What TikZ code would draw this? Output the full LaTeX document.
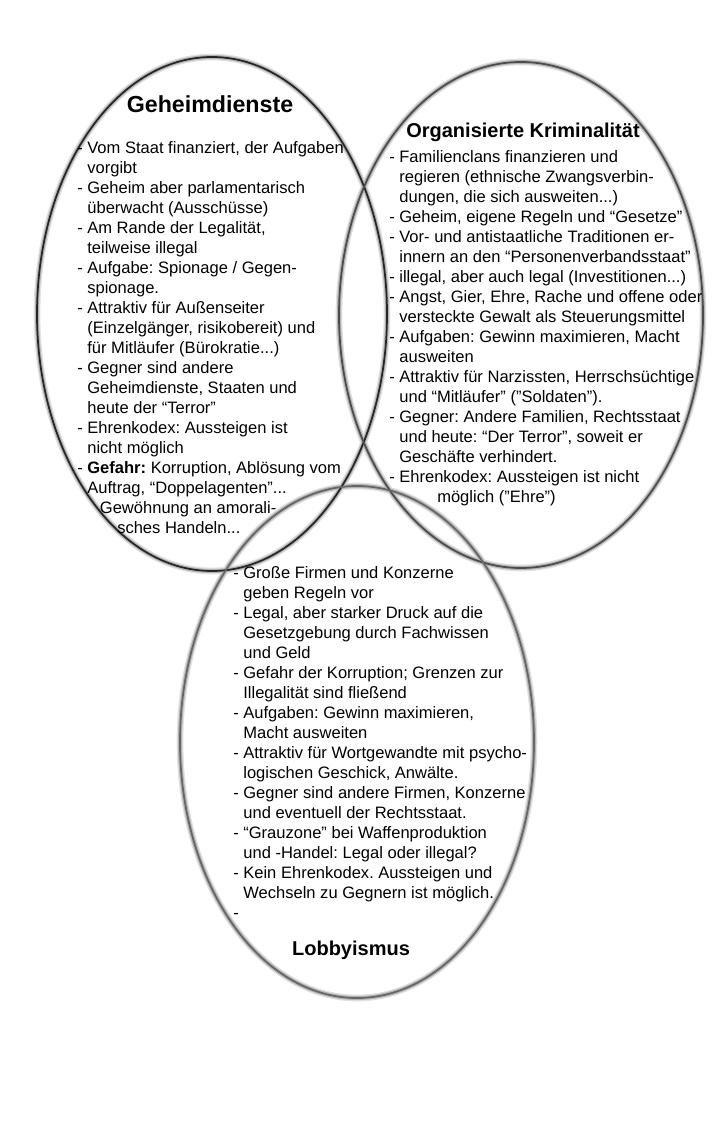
\documentclass[tikz,border=0pt]{standalone}
\usepackage{fontspec}
\setmainfont{Liberation Sans}
\usepackage{tikz}
\tikzset{x=.75pt,y=-.75pt}
\newcommand{\ind}{\hphantom{- }}
\frenchspacing

\begin{document}
\begin{tikzpicture}[
    schatten/.style={draw=black!12, line width=5pt},
    schatten2/.style={draw=black!30, line width=3pt},
    punkte/.style={align=left, anchor=north west, inner sep=0pt,
      font=\fontsize{12.4}{15}\selectfont},
    kopf/.style={anchor=base, inner sep=0pt,
      font=\bfseries\fontsize{15}{18}\selectfont}]
    \useasboundingbox (0,0) rectangle (720,1134);
    \fill[white] (0,0) rectangle (720,1134);
    % blurred rims first
    \foreach \x/\y/\a/\b in {212/314/175/257, 521/315/182/253, 357/742/177/256}
      \draw[schatten] (\x,\y) ellipse [x radius=\a, y radius=\b];
    \foreach \x/\y/\a/\b in {212/314/175/257, 521/315/182/253, 357/742/177/256}
      \draw[schatten2] (\x,\y) ellipse [x radius=\a, y radius=\b];
    % the three rings
    \foreach \x/\y/\a/\b/\c in {212/314/175/257/black!85, 521/315/182/253/black!70,
        357/742/177/256/black!60}
      \draw[\c, line width=1.3pt] (\x,\y) ellipse [x radius=\a, y radius=\b];

    % Geheimdienste
    \node[kopf, font=\bfseries\fontsize{17.4}{20}\selectfont] (gdkopf) at (210,113) {Geheimdienste};
    \node[punkte] (gdtext) at (77,141) {- Vom Staat finanziert, der Aufgaben\\
      \ind vorgibt\\
      - Geheim aber parlamentarisch\\
      \ind überwacht (Ausschüsse)\\
      - Am Rande der Legalität,\\
      \ind teilweise illegal\\
      - Aufgabe: Spionage / Gegen-\\
      \ind spionage.\\
      - Attraktiv für Außenseiter\\
      \ind (Einzelgänger, risikobereit) und\\
      \ind für Mitläufer (Bürokratie...)\\
      - Gegner sind andere\\
      \ind Geheimdienste, Staaten und\\
      \ind heute der “Terror”\\
      - Ehrenkodex: Aussteigen ist\\
      \ind nicht möglich\\
      - \textbf{Gefahr:} Korruption, Ablösung vom\\
      \ind Auftrag, “Doppelagenten”...\\
      \hspace*{17pt}Gewöhnung an amorali-\\
      \hspace*{30pt}sches Handeln...};

    % Organisierte Kriminalitaet
    \node[kopf] (okkopf) at (523,138) {Organisierte Kriminalität};
    \node[punkte] (oktext) at (389,150) {- Familienclans finanzieren und\\
      \ind regieren (ethnische Zwangsverbin-\\
      \ind dungen, die sich ausweiten...)\\
      - Geheim, eigene Regeln und “Gesetze”\\
      - Vor- und antistaatliche Traditionen er-\\
      \ind innern an den “Personenverbandsstaat”\\
      - illegal, aber auch legal (Investitionen...)\\
      - Angst, Gier, Ehre, Rache und offene oder\\
      \ind versteckte Gewalt als Steuerungsmittel\\
      - Aufgaben: Gewinn maximieren, Macht\\
      \ind ausweiten\\
      - Attraktiv für Narzissten, Herrschsüchtige\\
      \ind und “Mitläufer” (”Soldaten”).\\
      - Gegner: Andere Familien, Rechtsstaat\\
      \ind und heute: “Der Terror”, soweit er\\
      \ind Geschäfte verhindert.\\
      - Ehrenkodex: Aussteigen ist nicht\\
      \hspace*{36pt}möglich (”Ehre”)};

    % Lobbyismus
    \node[punkte] (lobtext) at (233,566) {- Große Firmen und Konzerne\\
      \ind geben Regeln vor\\
      - Legal, aber starker Druck auf die\\
      \ind Gesetzgebung durch Fachwissen\\
      \ind und Geld\\
      - Gefahr der Korruption; Grenzen zur\\
      \ind Illegalität sind fließend\\
      - Aufgaben: Gewinn maximieren,\\
      \ind Macht ausweiten\\
      - Attraktiv für Wortgewandte mit psycho-\\
      \ind logischen Geschick, Anwälte.\\
      - Gegner sind andere Firmen, Konzerne\\
      \ind und eventuell der Rechtsstaat.\\
      - “Grauzone” bei Waffenproduktion\\
      \ind und -Handel: Legal oder illegal?\\
      - Kein Ehrenkodex. Aussteigen und\\
      \ind Wechseln zu Gegnern ist möglich.\\
      -};
    \node[kopf] (lobkopf) at (351,955) {Lobbyismus};
\end{tikzpicture}
\end{document}
